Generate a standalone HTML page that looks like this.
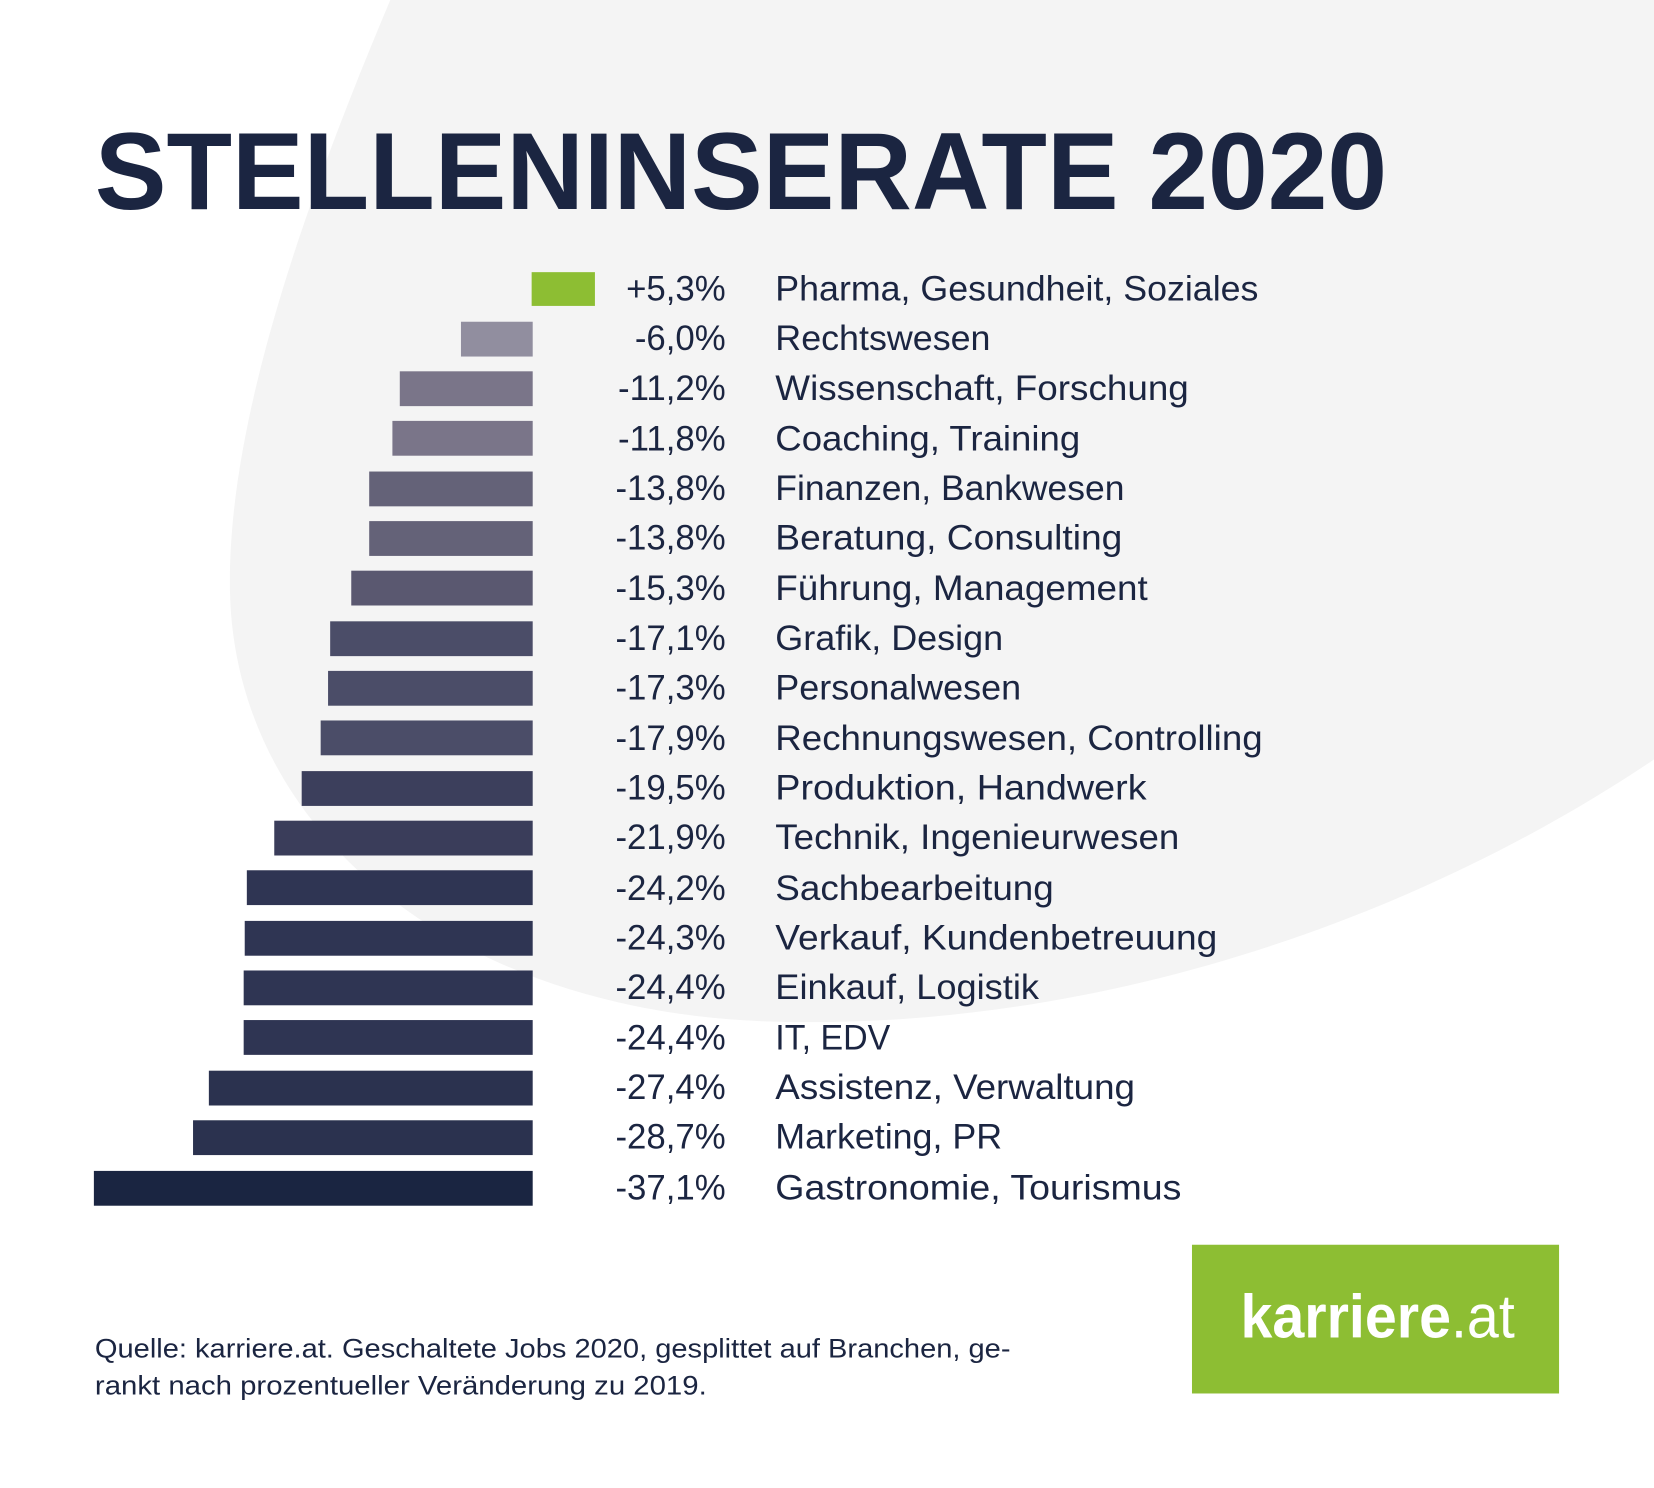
<!DOCTYPE html>
<html><head><meta charset="utf-8"><style>
html,body{margin:0;padding:0;background:#fff;}
svg{display:block;}
text{font-family:"Liberation Sans",sans-serif;fill:#1b2541;}
</style></head><body>
<svg width="1654" height="1488" viewBox="0 0 1568 1410.6" preserveAspectRatio="none">
<rect width="1568" height="1411" fill="#fff"/>
<path d="M370,0 C 290,190 215,400 218,560 C 222,780 420,955 720,968 C 1020,980 1330,880 1568,720 L1568,0 Z" fill="#f4f4f4"/>
<text x="90" y="198" font-size="104" font-weight="bold" textLength="1225" lengthAdjust="spacingAndGlyphs">STELLENINSERATE 2020</text>
<rect x="504" y="258" width="60" height="32" fill="#8dbe33"/>
<rect x="437" y="305" width="68" height="33" fill="#918e9f"/>
<rect x="379" y="352" width="126" height="33" fill="#7a7589"/>
<rect x="372" y="399" width="133" height="33" fill="#7a7589"/>
<rect x="350" y="447" width="155" height="33" fill="#646278"/>
<rect x="350" y="494" width="155" height="33" fill="#646278"/>
<rect x="333" y="541" width="172" height="33" fill="#5a5870"/>
<rect x="313" y="589" width="192" height="33" fill="#4b4d68"/>
<rect x="311" y="636" width="194" height="33" fill="#4b4d68"/>
<rect x="304" y="683" width="201" height="33" fill="#4b4d68"/>
<rect x="286" y="731" width="219" height="33" fill="#3c3f5c"/>
<rect x="260" y="778" width="245" height="33" fill="#3a3d5a"/>
<rect x="234" y="825" width="271" height="33" fill="#2f3553"/>
<rect x="232" y="873" width="273" height="33" fill="#2f3553"/>
<rect x="231" y="920" width="274" height="33" fill="#2f3553"/>
<rect x="231" y="967" width="274" height="33" fill="#2f3553"/>
<rect x="198" y="1015" width="307" height="33" fill="#2b324f"/>
<rect x="183" y="1062" width="322" height="33" fill="#2b324f"/>
<rect x="89" y="1110" width="416" height="33" fill="#1a2541"/>
<g font-size="33">
<text x="688" y="285" text-anchor="end">+5,3%</text><text x="735" y="285" textLength="458" lengthAdjust="spacingAndGlyphs">Pharma, Gesundheit, Soziales</text>
<text x="688" y="332" text-anchor="end">-6,0%</text><text x="735" y="332" textLength="204" lengthAdjust="spacingAndGlyphs">Rechtswesen</text>
<text x="688" y="379" text-anchor="end">-11,2%</text><text x="735" y="379" textLength="392" lengthAdjust="spacingAndGlyphs">Wissenschaft, Forschung</text>
<text x="688" y="427" text-anchor="end">-11,8%</text><text x="735" y="427" textLength="289" lengthAdjust="spacingAndGlyphs">Coaching, Training</text>
<text x="688" y="474" text-anchor="end">-13,8%</text><text x="735" y="474" textLength="331" lengthAdjust="spacingAndGlyphs">Finanzen, Bankwesen</text>
<text x="688" y="521" text-anchor="end">-13,8%</text><text x="735" y="521" textLength="329" lengthAdjust="spacingAndGlyphs">Beratung, Consulting</text>
<text x="688" y="569" text-anchor="end">-15,3%</text><text x="735" y="569" textLength="353" lengthAdjust="spacingAndGlyphs">Führung, Management</text>
<text x="688" y="616" text-anchor="end">-17,1%</text><text x="735" y="616" textLength="216" lengthAdjust="spacingAndGlyphs">Grafik, Design</text>
<text x="688" y="663" text-anchor="end">-17,3%</text><text x="735" y="663" textLength="233" lengthAdjust="spacingAndGlyphs">Personalwesen</text>
<text x="688" y="711" text-anchor="end">-17,9%</text><text x="735" y="711" textLength="462" lengthAdjust="spacingAndGlyphs">Rechnungswesen, Controlling</text>
<text x="688" y="758" text-anchor="end">-19,5%</text><text x="735" y="758" textLength="352" lengthAdjust="spacingAndGlyphs">Produktion, Handwerk</text>
<text x="688" y="805" text-anchor="end">-21,9%</text><text x="735" y="805" textLength="383" lengthAdjust="spacingAndGlyphs">Technik, Ingenieurwesen</text>
<text x="688" y="853" text-anchor="end">-24,2%</text><text x="735" y="853" textLength="264" lengthAdjust="spacingAndGlyphs">Sachbearbeitung</text>
<text x="688" y="900" text-anchor="end">-24,3%</text><text x="735" y="900" textLength="419" lengthAdjust="spacingAndGlyphs">Verkauf, Kundenbetreuung</text>
<text x="688" y="947" text-anchor="end">-24,4%</text><text x="735" y="947" textLength="250" lengthAdjust="spacingAndGlyphs">Einkauf, Logistik</text>
<text x="688" y="995" text-anchor="end">-24,4%</text><text x="735" y="995" textLength="109" lengthAdjust="spacingAndGlyphs">IT, EDV</text>
<text x="688" y="1042" text-anchor="end">-27,4%</text><text x="735" y="1042" textLength="341" lengthAdjust="spacingAndGlyphs">Assistenz, Verwaltung</text>
<text x="688" y="1089" text-anchor="end">-28,7%</text><text x="735" y="1089" textLength="215" lengthAdjust="spacingAndGlyphs">Marketing, PR</text>
<text x="688" y="1137" text-anchor="end">-37,1%</text><text x="735" y="1137" textLength="385" lengthAdjust="spacingAndGlyphs">Gastronomie, Tourismus</text>
</g>
<text x="90" y="1287" font-size="25" fill="#2a3050" textLength="868" lengthAdjust="spacingAndGlyphs">Quelle: karriere.at. Geschaltete Jobs 2020, gesplittet auf Branchen, ge-</text>
<text x="90" y="1322" font-size="25" fill="#2a3050" textLength="580" lengthAdjust="spacingAndGlyphs">rankt nach prozentueller Veränderung zu 2019.</text>
<rect x="1130" y="1180" width="348" height="141" fill="#8dbe33"/>
<text x="1176" y="1268" font-size="58" font-weight="bold" style="fill:#fff" textLength="260" lengthAdjust="spacingAndGlyphs">karriere<tspan font-weight="normal">.at</tspan></text>
</svg>
</body></html>
